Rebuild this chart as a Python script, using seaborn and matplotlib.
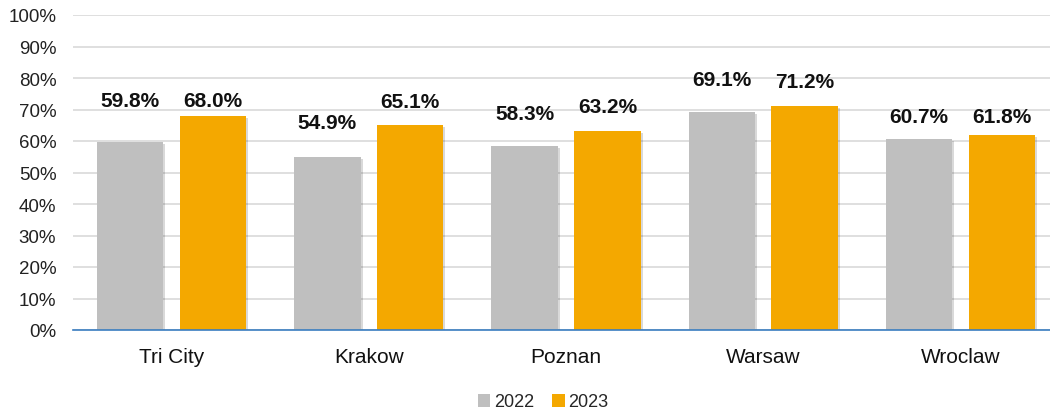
import matplotlib
matplotlib.use("Agg")
import matplotlib.pyplot as plt
import matplotlib.patheffects as pe
from matplotlib.ticker import PercentFormatter, MultipleLocator
import seaborn as sns
import pandas as pd

cities = ["Tri City", "Krakow", "Poznan", "Warsaw", "Wroclaw"]
years = ["2022", "2023"]
values_2022 = [59.8, 54.9, 58.3, 69.1, 60.7]
values_2023 = [68.0, 65.1, 63.2, 71.2, 61.8]
label_y_2022 = [73.0, 66.0, 68.6, 79.4, 67.9]
label_y_2023 = [73.0, 72.4, 70.8, 79.0, 67.9]
colors = {"2022": "#BFBFBF", "2023": "#F4A800"}

df = pd.DataFrame({
    "city": cities * 2,
    "year": ["2022"] * len(cities) + ["2023"] * len(cities),
    "value": values_2022 + values_2023,
})

sns.set_theme(style="white")
plt.rcParams["font.family"] = ["Liberation Sans", "DejaVu Sans"]

fig = plt.figure(figsize=(10.5, 4.14), dpi=100)
ax = fig.add_axes([73 / 1050, 83 / 414, 986 / 1050, 315 / 414])

sns.barplot(data=df, x="city", y="value", hue="year", order=cities,
            hue_order=years, palette=colors, width=0.84, gap=0.2,
            saturation=1, ax=ax, legend=True, zorder=3, linewidth=0,
            edgecolor="none")

for p in ax.patches:
    p.set_path_effects([pe.SimplePatchShadow(offset=(1.5, -1.5), alpha=0.15, shadow_rgbFace="#000000"),
                        pe.Normal()])

ax.set_ylim(0, 100)
ax.set_xlim(-0.5, len(cities) - 0.5)
ax.yaxis.set_major_locator(MultipleLocator(10))
ax.yaxis.set_major_formatter(PercentFormatter(decimals=0))
ax.grid(axis="y", color="#D9D9D9", linewidth=1.2, zorder=0)
ax.set_axisbelow(True)
for s in ["top", "right", "left"]:
    ax.spines[s].set_visible(False)
ax.spines["bottom"].set_color("#3A7DC0")
ax.spines["bottom"].set_linewidth(1.2)
ax.spines["bottom"].set_zorder(5)
ax.tick_params(axis="y", length=0, pad=12, labelsize=13.5, labelcolor="#222222")
ax.tick_params(axis="x", length=0, pad=12, labelsize=15, labelcolor="#111111")
ax.set_xlabel("")
ax.set_ylabel("")

offset = 0.21
for i in range(len(cities)):
    ax.text(i - offset, label_y_2022[i], f"{values_2022[i]:.1f}%", ha="center", va="center",
            fontsize=15, fontweight="bold", color="#111111", zorder=6)
    ax.text(i + offset, label_y_2023[i], f"{values_2023[i]:.1f}%", ha="center", va="center",
            fontsize=15, fontweight="bold", color="#111111", zorder=6)

handles, labels = ax.get_legend_handles_labels()
ax.get_legend().remove()
for h in handles:
    h.set_path_effects([])
fig.legend(handles, labels, loc="center", bbox_to_anchor=(543 / 1050, 1 - 403 / 414),
           ncol=2, frameon=False, fontsize=13, handlelength=0.7, handleheight=0.7,
           handletextpad=0.2, columnspacing=1.0)

fig.savefig("out.png", dpi=100)
